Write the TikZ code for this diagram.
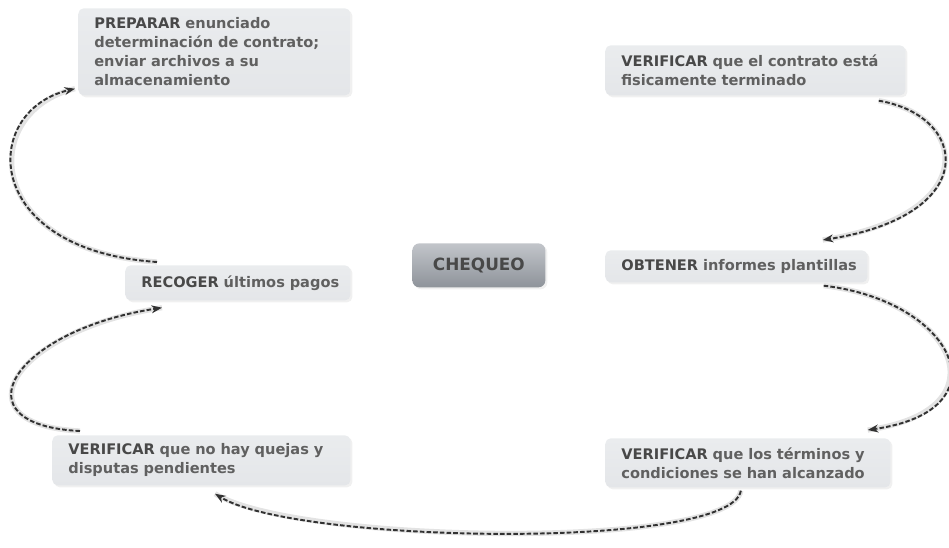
\documentclass[tikz,border=0pt]{standalone}
\usepackage{fontspec}
\setmainfont{DejaVu Sans}
\usetikzlibrary{positioning,arrows.meta,calc,shadows}
\definecolor{boxFill}{RGB}{228,230,233}
\definecolor{boxTop}{RGB}{234,236,238}
\definecolor{keyTop}{RGB}{194,197,202}
\definecolor{keyBottom}{RGB}{142,147,154}
\definecolor{stepText}{RGB}{96,96,96}
\definecolor{stepKey}{RGB}{72,72,72}
\definecolor{flowDark}{RGB}{50,50,50}

\newcommand{\kw}[1]{{\color{stepKey}#1}}

\begin{document}
\begin{tikzpicture}[
    x=0.2mm, y=-0.2mm,
    >={Stealth[length=6pt,width=4.5pt]},
    stepbox/.style={anchor=north west, rounded corners=3pt, top color=boxTop, bottom color=boxFill,
      drop shadow={opacity=0.12, shadow xshift=0.4mm, shadow yshift=-0.4mm},
      align=left, inner xsep=3.2mm, inner ysep=0pt,
      font=\fontsize{8.3}{10.8}\selectfont\bfseries, text=stepText},
    hub/.style={anchor=north west, rounded corners=4pt, top color=keyTop, bottom color=keyBottom,
      drop shadow={opacity=0.12, shadow xshift=0.4mm, shadow yshift=-0.4mm},
      minimum width=26.6mm, minimum height=8.8mm, inner sep=0pt,
      font=\fontsize{9.6}{11}\selectfont\bfseries, text=stepKey},
    flow/.style={->, draw=flowDark, line width=1.1pt, dash pattern=on 2.6pt off 1.2pt,
      preaction={draw=gray!22, line width=3pt, solid, -}}
  ]
    \useasboundingbox (0,0) rectangle (949,548);

    % central node
    \node[hub] (chk) at (412,243) {CHEQUEO};

    % steps of the cycle
    \node[stepbox, text width=48mm, minimum height=17.4mm] (prep) at (78,8) {
      \kw{PREPARAR} enunciado\\determinación de contrato;\\enviar archivos a su\\almacenamiento};
    \node[stepbox, text width=53.6mm, minimum height=10mm] (fis) at (605,45) {
      \kw{VERIFICAR} que el contrato está\\fisicamente terminado};
    \node[stepbox, text width=46mm, minimum height=6.4mm] (obt) at (605,250) {
      \mbox{\kw{OBTENER} informes plantillas}};
    \node[stepbox, text width=50.6mm, minimum height=9.8mm] (term) at (605,438) {
      \kw{VERIFICAR} que los términos y\\condiciones se han alcanzado};
    \node[stepbox, text width=53.2mm, minimum height=10mm] (quej) at (52,435) {
      \kw{VERIFICAR} que no hay quejas y\\disputas pendientes};
    \node[stepbox, text width=38.6mm, minimum height=7mm] (reco) at (125,265) {
      \mbox{\kw{RECOGER} últimos pagos}};

    % dashed connectors
    \draw[flow] ($(fis.south east)+(-27,5)$) .. controls +(90,15) and +(160,-25) .. ($(obt.north east)+(-45,-10)$);
    \draw[flow] ($(obt.south east)+(-44,3)$) .. controls +(130,15) and +(140,-20) .. ($(term.north east)+(-23,-8)$);
    \draw[flow] ($(term.south)+(-7,3)$) .. controls +(-10,60) and +(80,50) .. ($(quej.south west)+(163,8)$);
    \draw[flow] ($(quej.north west)+(28,-4)$) .. controls +(-125,-6) and +(-150,23) .. ($(reco.south west)+(37,7)$);
    \draw[flow] ($(reco.north west)+(32,-3)$) .. controls +(-177,-12) and +(-95,22) .. ($(prep.south west)+(-3,-7)$);
  \end{tikzpicture}
\end{document}
